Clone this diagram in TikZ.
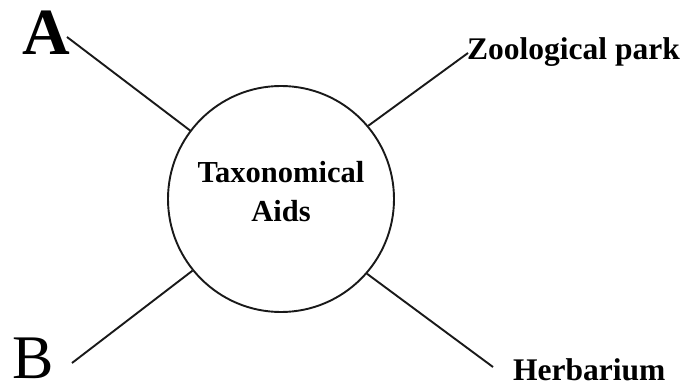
\documentclass[tikz,border=0pt]{standalone}
\usepackage{fontspec}
\setmainfont{Liberation Serif}
\begin{document}
\begin{tikzpicture}[x=1pt,y=-1pt,
  conn/.style={line width=1.9pt,draw=black!90},
  lbl/.style={inner sep=0pt,font=\fontsize{31.5}{39}\selectfont\bfseries},
  hub/.style={circle,draw=black!90,line width=1.9pt,minimum size=226pt,inner sep=0pt,align=center}]
\useasboundingbox (0,0) rectangle (687,387);
\node[hub] (c) at (281,199) {};
\node[inner sep=0pt,anchor=base,font=\fontsize{30.5}{39}\selectfont\bfseries] (t1) at (281,183) {Taxonomical};
\node[inner sep=0pt,anchor=base,font=\fontsize{30.5}{39}\selectfont\bfseries] (t2) at (281,222) {Aids};
\node[inner sep=0pt,anchor=base west,font=\fontsize{66}{66}\selectfont\bfseries] (A) at (22,55) {A};
\node[inner sep=0pt,anchor=base west,font=\fontsize{62}{62}\selectfont] (B) at (12,378) {B};
\node[lbl,anchor=base west] (Z) at (467,60) {Zoological park};
\node[lbl,anchor=base west] (H) at (513,380) {Herbarium};
\coordinate (pa) at (67,37);
\coordinate (pb) at (72,363);
\coordinate (pz) at (468,53);
\coordinate (ph) at (493,367);
\draw[conn] (c.143.6) -- (pa);
\draw[conn] (c.219) -- (pb);
\draw[conn] (c.40.7) -- (pz);
\draw[conn] (c.319.6) -- (ph);
\end{tikzpicture}
\end{document}
